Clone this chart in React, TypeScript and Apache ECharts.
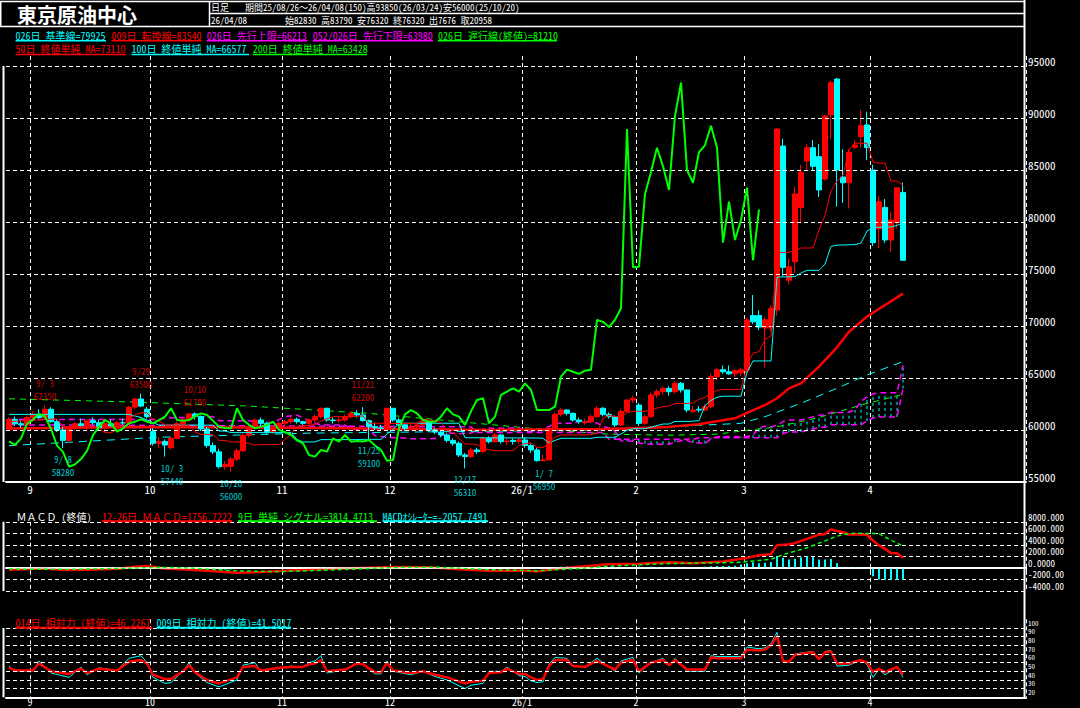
import React, { useEffect, useRef } from 'react';
import * as echarts from 'echarts';

const FONT = "'Noto Sans Mono CJK JP','Noto Sans CJK JP',monospace";
const RED = '#ff0000';
const CYAN = '#00ffff';
const GREEN = '#00ff00';
const MAGENTA = '#ff00ff';
const WHITE = '#ffffff';

// ---- trading days (category axis) ----
const MONTH_DAYS: [string, number[]][] = [
  ['25/08', [26, 27, 28, 29]],
  ['25/09', [1, 2, 3, 4, 5, 8, 9, 10, 11, 12, 16, 17, 18, 19, 22, 24, 25, 26, 29, 30]],
  ['25/10', [1, 2, 3, 6, 7, 8, 9, 10, 14, 15, 16, 17, 20, 21, 22, 23, 24, 27, 28, 29, 30, 31]],
  ['25/11', [4, 5, 6, 7, 10, 11, 12, 13, 14, 17, 18, 19, 20, 21, 25, 26, 27, 28]],
  ['25/12', [1, 2, 3, 4, 5, 8, 9, 10, 11, 12, 15, 16, 17, 18, 19, 22, 23, 24, 25, 26, 29, 30]],
  ['26/01', [5, 6, 7, 8, 9, 13, 14, 15, 16, 19, 20, 21, 22, 23, 26, 27, 28, 29, 30]],
  ['26/02', [2, 3, 4, 5, 6, 9, 10, 12, 13, 16, 17, 18, 19, 20, 24, 25, 26, 27]],
  ['26/03', [2, 3, 4, 5, 6, 9, 10, 11, 12, 13, 16, 17, 18, 19, 23, 24, 25, 26, 27, 30, 31]],
  ['26/04', [1, 2, 3, 6, 7, 8]],
];
const MONTH_TICK_LABELS = ['9', '10', '11', '12', '26/1', '2', '3', '4'];
const EMPTY_SLOTS = 20;

// ---- candles ----
const OPEN = [
  60070,61030,60600,60500,61200,61500,61200,62000,60800,60000,
  59000,60200,60600,60400,60900,60700,60200,60600,60400,60700,
  60670,62200,62980,62000,59840,58720,58900,58300,59200,60600,
  61000,61550,61300,60100,58500,57900,56470,56500,57200,58000,
  59500,60300,60960,60640,59840,60160,60640,60800,61030,60800,
  60640,60960,61280,62090,60960,60900,60960,61300,61600,61440,
  60900,60320,60200,60200,62090,60960,60500,60160,60300,60480,
  60800,60000,59800,59520,59000,58720,57600,57440,58080,57920,
  59200,58880,59520,58880,59000,58900,59040,58500,58080,57050,
  57120,60160,61500,61920,61600,60960,60700,60800,61280,62090,
  61500,61280,60480,61800,62880,62400,60640,61280,63370,63700,
  64000,63680,64490,63850,61800,62000,61920,62240,65130,65800,
  65600,65400,65500,65770,71000,71000,69800,69800,71540,87300,
  74400,76180,81400,85860,87140,86280,84130,90300,93750,84330,
  83780,87180,88200,89330,85000,79330,81400,78270,79940,82830];
const HIGH = [
  61200,61300,61000,61400,61800,62000,62350,62200,61000,60300,
  60400,60800,61100,61000,61200,61000,60800,61000,60900,61100,
  62300,63100,63500,62200,60200,59300,59100,59400,60800,61200,
  61600,61700,61400,60300,58800,58200,57000,57400,58200,59700,
  60500,61100,61200,60800,60400,60800,61000,61300,61200,60900,
  61100,61500,62150,62150,61200,61200,61500,61800,61900,62200,
  61000,60700,60500,62150,62100,61200,60700,60600,60700,61000,
  60900,60200,59900,59700,59200,58900,57800,58300,58300,59400,
  59400,59700,59600,59200,59200,59300,59300,58700,58300,57600,
  60300,61700,62100,62000,61700,61200,61100,61500,62300,62200,
  61700,61400,62000,63000,63300,62600,61500,63600,63900,64200,
  64200,64700,64600,63900,62300,62300,62500,65400,66000,66200,
  66200,65900,66000,70800,72980,71500,70900,72000,89000,88000,
  76500,83400,85500,87500,87880,87500,90300,93600,93850,87000,
  87000,87900,90770,90600,85500,82500,82200,81000,83300,83790];
const LOW = [
  59900,60400,60200,60300,60800,61000,61000,60700,59800,58280,
  58800,59900,60300,60000,60500,60000,59800,60300,60100,60400,
  60500,62000,62200,61100,58500,58300,57440,58100,59100,60300,
  60800,61000,59900,58300,57700,56300,56200,56000,57000,57900,
  59300,60100,60400,59600,59600,60000,60400,60600,60600,60400,
  60500,60800,61100,60800,60600,60700,60800,61100,61200,60800,
  59100,60000,59900,60100,60800,60300,59900,60000,60100,60300,
  59800,59600,59300,58800,58500,57400,56310,57300,57700,57800,
  58700,58800,58700,58600,58600,58700,58300,57800,56950,57000,
  57100,60000,61300,61400,60800,60600,60500,60700,61200,61300,
  61100,60300,60400,61700,62600,60400,60500,61200,63100,63400,
  63300,63500,63600,61700,61600,61700,61800,62100,64800,65400,
  65300,65100,65200,65500,70200,69600,66000,69500,71000,74800,
  74000,75100,80000,85000,85000,82400,84000,88000,81470,81830,
  81300,87000,87150,85960,77700,77470,78000,77100,79400,76320];
const CLOSE = [
  61030,60600,60500,61200,61500,61200,62000,60800,60000,59000,
  60200,60600,60400,60900,60700,60200,60600,60400,60700,60670,
  62200,62980,62300,61280,58720,58900,58560,59200,60600,61000,
  61550,61300,60100,58500,57900,56470,56700,57200,58000,59500,
  60300,60960,60640,59840,60160,60640,60800,61030,60800,60640,
  60960,61280,62090,60960,60900,60960,61300,61600,61440,60900,
  60320,60200,60160,62090,60960,60500,60160,60300,60480,60800,
  60000,59800,59520,59000,58720,57600,57440,58080,57920,59200,
  58880,59520,58880,58950,58900,59040,58500,58080,57050,57120,
  60160,61500,61920,61600,60960,60800,60800,61280,62090,61500,
  61280,60480,61800,62880,63050,60640,61280,63370,63700,64000,
  63680,64490,63850,61920,61920,61920,62240,65130,65800,65600,
  65400,65700,65800,70580,70400,69900,70600,71700,88940,75640,
  75700,82700,84800,87140,85350,83080,90190,93400,85000,83770,
  86700,87400,89260,87150,78010,81950,78270,80190,83300,76320];
const CHIKOU_SHIFT = 25;
const CHIKOU_TAIL = 81210;

// ---- indicator readings [barIndex, value] ----
const TENKAN = [[0,60800],[8,61075],[9,60315],[14,60315],[15,60240],[16,59740],[17,59740],[18,60000],[19,60500],[20,61050],[21,61450],[22,61650],[23,61650],[24,61000],[25,60900],[26,60470],[30,60470],[31,59820],[32,59570],[34,59570],[35,59000],[36,59000],[37,58850],[39,58850],[40,58700],[41,58550],[42,58600],[45,58600],[46,59100],[47,59600],[48,60300],[49,60450],[50,60450],[51,60550],[52,60875],[53,61075],[54,61275],[57,61275],[58,61325],[59,61350],[60,60650],[63,60650],[64,60625],[68,60625],[69,61025],[70,60975],[71,60875],[72,60700],[73,60000],[74,59750],[75,59200],[76,58655],[77,58655],[78,58605],[79,58255],[80,58105],[81,58005],[84,58005],[85,58500],[86,58700],[87,58750],[88,58325],[89,58325],[90,58625],[91,59325],[92,59525],[96,59525],[97,59550],[98,59700],[99,61150],[100,61400],[101,61300],[102,61300],[103,61650],[104,61800],[106,61800],[107,61950],[108,62100],[109,62250],[110,62300],[111,62550],[113,62550],[114,62600],[115,62950],[116,63150],[117,63500],[118,63800],[119,63900],[122,63900],[123,66250],[124,67390],[125,67540],[126,68690],[127,69040],[128,77050],[130,77100],[131,77250],[132,77500],[134,77500],[135,79250],[136,80650],[137,83000],[138,83925],[139,84475],[140,86925],[141,87575],[143,87575],[144,85775],[145,85660],[146,85660],[147,83935],[148,83935],[149,83540]];
const KIJUN = [[0,61500],[20,61500],[22,61200],[25,60470],[34,60470],[35,59900],[36,59900],[37,59750],[47,59750],[48,59100],[49,58850],[51,58850],[52,59075],[58,59075],[59,59100],[62,59100],[63,59600],[64,60050],[65,60650],[75,60650],[76,59255],[88,59230],[89,59200],[90,58755],[91,59000],[92,59200],[97,59200],[98,59300],[101,59300],[102,59625],[103,59975],[104,60125],[106,60125],[107,60275],[108,60425],[109,60575],[110,60575],[111,60825],[113,60825],[114,60850],[115,60900],[116,62350],[117,62850],[118,63150],[119,63250],[122,63250],[123,65550],[124,66640],[127,66640],[128,74700],[131,74750],[132,75100],[133,75350],[135,75350],[136,75950],[137,77650],[138,77775],[141,77825],[142,77975],[143,79125],[144,79475],[147,79525],[148,79675],[149,79925]];
const SENKOU_A = [[0,61000],[25,61000],[26,61150],[34,61290],[35,60900],[40,60900],[42,60620],[44,60750],[45,61000],[46,61275],[48,61425],[50,60900],[52,60470],[56,60470],[57,60145],[58,60020],[60,60020],[61,59450],[63,59300],[66,59225],[67,59150],[71,59175],[72,59425],[73,59675],[74,59700],[75,59650],[77,59700],[78,59975],[79,60075],[80,60175],[83,60175],[84,60200],[85,60225],[86,59875],[88,59875],[89,60125],[90,60340],[91,60640],[94,60640],[95,60840],[96,60810],[97,60760],[98,60675],[99,60325],[100,60200],[101,59925],[102,58955],[104,58930],[105,58755],[106,58680],[107,58630],[110,58630],[111,58870],[112,58970],[113,58990],[114,58780],[115,58760],[116,58690],[117,59160],[118,59360],[122,59360],[123,59375],[124,59500],[125,60225],[126,60350],[127,60300],[128,60460],[129,60810],[130,60960],[132,60960],[133,61110],[134,61260],[135,61410],[136,61440],[137,61690],[139,61690],[140,61725],[141,61925],[142,62750],[143,63175],[144,63475],[145,63575],[148,63575],[149,66213]];
const SENKOU_B = [[0,60500],[40,60400],[77,60300],[78,59750],[99,59750],[100,59100],[114,59100],[115,59255],[128,59255],[129,59655],[130,59805],[132,59805],[133,59955],[134,60105],[135,60255],[136,60255],[137,60505],[142,60505],[143,60855],[144,61155],[145,61255],[148,61255],[149,63980]];
const CLOUD_HATCH = [[101,59100,59925],[102,58955,59100],[103,58940,59100],[104,58930,59100],[105,58755,59100],[106,58680,59100],[107,58630,59100],[108,58630,59100],[109,58630,59100],[110,58630,59100],[111,58870,59100],[112,58970,59100],[113,58990,59100],[114,58780,59100],[115,58760,59255],[116,58690,59255],[117,59160,59255],[118,59255,59360],[119,59255,59360],[120,59255,59360],[121,59255,59360],[122,59255,59360],[123,59255,59375],[124,59255,59500],[125,59255,60225],[126,59255,60350],[127,59255,60300],[128,59255,60460],[129,59655,60810],[130,59805,60960],[131,59805,60960],[132,59805,60960],[133,59955,61110],[134,60105,61260],[135,60255,61410],[136,60255,61440],[137,60505,61690],[138,60505,61690],[139,60505,61690],[140,60505,61725],[141,60505,61925],[142,60505,62750],[143,60855,63175],[144,61155,63475],[145,61255,63575],[146,61255,63575],[147,61255,63575],[148,61255,63575],[149,63980,66213]];
const MA50 = [[0,60150],[20,60300],[40,60250],[60,60150],[80,60000],[100,60100],[110,60300],[115,60550],[121,61120],[122,61380],[126,62400],[128,63050],[130,64000],[132,64490],[135,66090],[138,67950],[140,69450],[143,70900],[146,72020],[149,73110]];
const MA100 = [[0,58500],[25,59300],[50,59700],[75,59850],[100,60000],[115,60450],[122,60640],[126,61280],[132,62570],[138,64010],[143,65290],[149,66577]];
const MA200 = [[0,63000],[20,62700],[40,62300],[60,61600],[75,60800],[90,60000],[100,59600],[110,59500],[118,59600],[122,59900],[128,60300],[135,61200],[142,62400],[149,63428]];

const MACD = [[0,-300],[6,-100],[9,-350],[13,-300],[18,-150],[21,200],[23,350],[26,-100],[30,-300],[35,-600],[38,-850],[42,-700],[48,-400],[55,-100],[60,50],[64,150],[70,100],[75,-250],[80,-500],[86,-450],[88,-600],[91,-200],[95,190],[100,630],[105,740],[110,980],[114,800],[119,1100],[121,1400],[122,1600],[123,1700],[124,2000],[125,2200],[126,2300],[127,2400],[128,3950],[129,4000],[130,4100],[131,4300],[132,4700],[133,5050],[134,5400],[135,5770],[136,5900],[137,6680],[138,6400],[139,6200],[140,5800],[141,5800],[142,5800],[143,5750],[144,4750],[145,3900],[146,3300],[147,2600],[148,2550],[149,1757]];
const SIGNAL = [[0,-200],[10,-250],[20,-50],[25,100],[30,0],[38,-500],[45,-650],[55,-300],[65,100],[72,100],[80,-300],[88,-500],[95,-100],[100,300],[105,550],[110,750],[115,850],[121,950],[122,1000],[123,1100],[124,1200],[125,1300],[126,1400],[127,1500],[128,1900],[129,2300],[130,2600],[131,2900],[132,3200],[133,3500],[134,3900],[135,4300],[136,4700],[137,5100],[138,5500],[139,5800],[140,5950],[141,6000],[142,6000],[143,5950],[144,6000],[145,5900],[146,5400],[147,4800],[148,4300],[149,3814]];
const OSC = [-100,-80,-60,0,50,80,120,60,-20,-120,-100,-50,-20,20,30,10,0,20,40,60,200,300,280,150,
  -50,-200,-280,-250,-150,-80,0,30,-30,-60,-150,-280,-300,-250,-150,-50,20,50,80,100,120,130,
  140,130,100,110,150,140,130,150,120,90,80,60,100,90,-30,-40,-30,80,
  60,40,30,10,20,0,-20,-60,-120,-180,-220,-280,-300,-250,-200,-100,-60,-50,-40,-30,-20,-20,
  -80,-90,-150,-120,-20,120,220,240,230,200,160,150,140,160,180,150,170,160,200,
  230,180,190,160,130,120,90,80,70,60,40,200,300,330,330,330,400,
  600,800,970,800,900,1050,2000,1750,1450,1600,1850,2000,1850,1450,1450,1550,800,200,150,100,100,-200,-1450,-2000,-2050,-2100,-2050,-2058];

const RSI14 = [[0,44],[1,41],[4,41],[5,49],[7,40],[10,37],[12,43],[13,38],[15,43],[18,41],[20,51],[22,53],[23,49],[24,36],[26,31],[27,31],[29,40],[30,47],[31,39],[33,30],[35,26],[38,33],[39,45],[41,46],[42,41],[45,44],[47,45],[49,45],[50,48],[51,49],[52,53],[53,40],[56,42],[58,49],[59,48],[61,39],[62,39],[63,50],[64,41],[67,38],[69,40],[71,36],[73,33],[76,26],[77,28],[79,29],[80,38],[82,39],[83,43],[85,37],[86,37],[87,33],[88,30],[89,31],[90,46],[91,53],[93,53],[94,46],[96,45],[98,52],[101,42],[102,50],[104,53],[105,40],[107,50],[109,53],[110,47],[111,53],[113,42],[116,42],[117,56],[118,55],[122,55],[123,65],[125,64],[126,65],[127,70],[128,81],[129,52],[130,51],[131,59],[134,62],[135,54],[136,62],[137,63],[138,49],[140,49],[142,53],[143,50],[144,39],[145,43],[146,39],[148,45],[149,36]];
const RSI9 = [[0,46],[1,40],[4,40],[5,52],[7,38],[10,33],[12,45],[13,36],[15,44],[18,41],[20,55],[22,58],[23,50],[24,33],[26,26],[27,27],[29,40],[30,50],[31,38],[33,27],[35,22],[38,30],[39,47],[41,50],[42,40],[45,44],[47,46],[49,45],[50,50],[51,52],[52,58],[53,38],[56,42],[58,50],[59,48],[61,37],[62,37],[63,52],[64,40],[67,36],[69,40],[71,34],[73,30],[76,20],[77,24],[79,26],[80,40],[82,40],[83,45],[85,35],[86,34],[87,29],[88,27],[89,28],[90,48],[91,56],[93,55],[94,46],[96,45],[98,55],[101,40],[102,52],[104,56],[105,38],[107,50],[109,55],[110,46],[111,55],[113,40],[116,40],[117,58],[118,57],[122,57],[123,68],[125,66],[126,67],[127,72],[128,85],[129,52],[130,50],[131,60],[134,63],[135,53],[136,63],[137,64],[138,46],[140,47],[142,53],[143,48],[144,33],[145,42],[146,36],[148,45],[149,33]];

// ---- extreme markers ----
const HI_IDX = [6, 22, 31, 59];
const HI_DATE = ['9/ 3', '9/29', '10/10', '11/21'];
const HI_VAL = [62350, 63500, 61700, 62200];
const LO_IDX = [9, 26, 37, 60, 76, 88];
const LO_DATE = ['9/ 8', '10/ 3', '10/20', '11/25', '12/17', '1/ 7'];
const LO_VAL = [58280, 57440, 56000, 59100, 56310, 56950];

// ---- axis ticks ----
const PRICE_TICKS = [55000, 60000, 65000, 70000, 75000, 80000, 85000, 90000, 95000];
const MACD_TICKS = [8000, 6000, 4000, 2000, 0, -2000, -4000];
const MACD_TICK_TEXT = ['8000.000', '6000.000', '4000.000', '2000.000', '0.0000', '-2000.00', '-4000.00'];
const RSI_TICKS = [100, 90, 80, 70, 60, 50, 40, 30, 20];
const RSI_GRID = [90, 80, 70, 60, 50, 40, 30, 20];

// ---- texts ----
const TITLE = '東京原油中心';
const HEAD1_A = '日足';
const HEAD1_B = '期間25/08/26～26/04/08(150)高93850(26/03/24)安56000(25/10/20)';
const HEAD2_A = '26/04/08';
const HEAD2_B = '始82830 高83790 安76320 終76320 出7676 取20958';

function buildOption() {
  const dates: string[] = [];
  const monthStarts: number[] = [];
  MONTH_DAYS.forEach(([ym, days], m) => {
    if (m > 0) monthStarts.push(dates.length);
    days.forEach((d) => dates.push(`${ym}/${String(d).padStart(2, '0')}`));
  });
  const cats = dates.concat(Array.from({ length: EMPTY_SLOTS }, (_, k) => `+${k + 1}`));
  const labelAt = new Map<number, string>();
  monthStarts.forEach((idx, k) => labelAt.set(idx, MONTH_TICK_LABELS[k]));
  const isMonth = (i: number) => labelAt.has(i);
  const nearMonth = (i: number) => monthStarts.some((m) => Math.abs(m - i) <= 3);

  const candles = OPEN.map((o, i) => [o, CLOSE[i], LOW[i], HIGH[i]]);
  const chikou = CLOSE.slice(CHIKOU_SHIFT).concat([CHIKOU_TAIL]);

  const makeX = (gridIndex: number, showLabel: boolean, showTick: boolean, fontSize: number, lineHeight: number, margin: number) => ({
    type: 'category',
    gridIndex,
    data: cats,
    boundaryGap: true,
    axisLine: { show: true, lineStyle: { color: WHITE, width: 2 } },
    axisTick: { show: showTick, interval: isMonth, length: 3, lineStyle: { color: WHITE } },
    axisLabel: {
      show: showLabel,
      interval: isMonth,
      formatter: (_v: string, i: number) => labelAt.get(i) ?? '',
      color: WHITE,
      fontSize,
      lineHeight,
      fontFamily: FONT,
      margin,
      padding: [0, 6, 0, 0],
    },
    splitLine: { show: true, interval: isMonth, lineStyle: { color: WHITE, type: [4, 3], width: 1 } },
  });

  const lineS = (name: string, data: number[][] | number[], color: string, width: number, type: any, z: number, xi = 0) => ({
    name,
    type: 'line',
    xAxisIndex: xi,
    yAxisIndex: xi,
    data,
    symbol: 'none',
    z,
    silent: true,
    lineStyle: { color, width, type },
  });

  const txt = (x: number, y: number, s: string, color: string, size = 10, weight = 'normal') => ({
    type: 'text',
    x,
    y,
    z: 100,
    silent: true,
    style: { text: s, fill: color, font: `${weight} ${size}px ${FONT}`, align: 'left', verticalAlign: 'middle', lineHeight: size + 1 },
  });
  const ln = (x1: number, y1: number, x2: number, y2: number, color = WHITE, w = 1.5) => ({
    type: 'line',
    z: 100,
    silent: true,
    shape: { x1, y1, x2, y2 },
    style: { stroke: color, lineWidth: w },
  });

  const graphic: any[] = [
    ln(0, 1.5, 1025, 1.5),
    ln(209.5, 13.5, 1025, 13.5),
    ln(0, 26.5, 1025, 26.5),
    ln(209.5, 1.5, 209.5, 26.5),
    ln(0.75, 1.5, 0.75, 26.5),
    ln(1024.5, 0, 1024.5, 697.5, WHITE, 2),
    ln(3.5, 66, 3.5, 482, WHITE, 2),
    ln(3.5, 521.8, 3.5, 591, WHITE, 2),
    ln(3.5, 628, 3.5, 697.3, WHITE, 2),
    txt(17, 14.2, TITLE, WHITE, 20, 'bold'),
    txt(211, 7, HEAD1_A, WHITE, 9),
    txt(245, 7, HEAD1_B, WHITE, 9),
    txt(211, 20.5, HEAD2_A, WHITE, 9),
    txt(285, 20.5, HEAD2_B, WHITE, 9),
    // legend row 1
    txt(15.6, 35, '026日 基準線=79925', CYAN),
    ln(15.6, 40.8, 106, 40.8, CYAN),
    txt(111.5, 35, '009日 転換線=83540', RED),
    ln(111.5, 40.8, 201.5, 40.8, RED),
    txt(206.7, 35, '026日 先行上限=66213', MAGENTA),
    ln(206.7, 40.8, 307.5, 40.8, MAGENTA),
    txt(312.7, 35, '052/026日 先行下限=63980', MAGENTA),
    ln(312.7, 40.8, 432.8, 40.8, MAGENTA),
    txt(438, 35, '026日 遅行線(終値)=81210', GREEN),
    ln(438, 40.8, 557, 40.8, GREEN),
    // legend row 2
    txt(15.6, 48.8, '50日 終値単純 MA=73110', RED),
    ln(15.6, 54.6, 126, 54.6, RED),
    txt(131.6, 48.8, '100日 終値単純 MA=66577', CYAN),
    ln(131.6, 54.6, 249, 54.6, CYAN),
    txt(252.8, 48.8, '200日 終値単純 MA=63428', GREEN),
    ln(252.8, 54.6, 367, 54.6, GREEN),
    // MACD legend
    txt(16.6, 516, 'ＭＡＣＤ (終値)', WHITE),
    txt(102, 516, '12-26日 ＭＡＣＤ=1756.7222', RED),
    ln(102, 521.3, 232, 521.3, RED, 2),
    txt(238, 516, '9日 単純 シグナル=3814.4713', GREEN),
    ln(238, 521.3, 377, 521.3, GREEN, 2),
    txt(382.6, 516, 'MACDｵｼﾚｰﾀｰ=-2057.7491', CYAN),
    ln(382.6, 521.3, 488, 521.3, CYAN, 2),
    // RSI legend
    txt(15.6, 622.5, '014日 相対力 (終値)=46.2267', RED),
    ln(15.6, 627.8, 152, 627.8, RED, 2),
    txt(156.5, 622.5, '009日 相対力 (終値)=41.5017', CYAN),
    ln(156.5, 627.8, 291, 627.8, CYAN, 2),
  ];

  const markLabel = (color: string, pos: string, distance: number) => ({
    show: true,
    position: pos,
    distance,
    color,
    fontSize: 9,
    fontFamily: FONT,
    lineHeight: 13,
    align: 'center',
  });

  return {
    animation: false,
    backgroundColor: '#000000',
    graphic,
    grid: [
      { left: 6, top: 56, width: 1020, height: 426 },
      { left: 6, top: 521.8, width: 1020, height: 69.2 },
      { left: 6, top: 619.3, width: 1020, height: 78 },
    ],
    xAxis: [makeX(0, true, false, 11, 12, 1), makeX(1, false, true, 11, 12, 1), makeX(2, true, false, 10, 9, 0)],
    yAxis: [
      {
        type: 'value', gridIndex: 0, position: 'right', min: 55000, max: 95960, interval: 5000,
        axisLine: { show: false }, axisTick: { show: false }, splitLine: { show: false },
        axisLabel: { color: WHITE, fontFamily: FONT, fontSize: 11, margin: 2, verticalAlign: 'bottom', formatter: (v: number) => (PRICE_TICKS.includes(v) ? String(v) : '') },
      },
      {
        type: 'value', gridIndex: 1, position: 'right', min: -4000, max: 8000, interval: 2000,
        axisLine: { show: false }, axisTick: { show: false },
        splitLine: { show: true, lineStyle: { color: WHITE, type: [4, 3], width: 1 } },
        axisLabel: { color: WHITE, fontFamily: FONT, fontSize: 9, lineHeight: 9, margin: 2, verticalAlign: 'bottom', formatter: (v: number) => { const k = MACD_TICKS.indexOf(v); return k >= 0 ? MACD_TICK_TEXT[k] : ''; } },
      },
      {
        type: 'value', gridIndex: 2, position: 'right', min: 10, max: 100, interval: 10,
        axisLine: { show: false }, axisTick: { show: false }, splitLine: { show: false },
        axisLabel: { color: WHITE, fontFamily: FONT, fontSize: 7, lineHeight: 7, margin: 2, verticalAlign: 'top', formatter: (v: number) => (RSI_TICKS.includes(v) ? String(v) : '') },
      },
    ],
    series: [
      {
        ...lineS('200日', MA200, GREEN, 1, [6, 5], 1),
        markLine: {
          silent: true, symbol: 'none', label: { show: false },
          lineStyle: { color: WHITE, type: [4, 3], width: 1 },
          data: PRICE_TICKS.filter((v) => v > 55000).map((v) => ({ yAxis: v })),
        },
      },
      {
        name: '雲', type: 'custom', xAxisIndex: 0, yAxisIndex: 0, z: 1, silent: true,
        data: CLOUD_HATCH,
        encode: { x: 0, y: [1, 2] },
        renderItem: (_p: any, api: any) => {
          const a = api.coord([api.value(0), api.value(1)]);
          const b = api.coord([api.value(0), api.value(2)]);
          return {
            type: 'line',
            shape: { x1: a[0], y1: a[1], x2: b[0], y2: b[1] },
            style: { stroke: CYAN, lineWidth: 1, lineDash: [3, 3] },
          };
        },
      },
      lineS('先行上限', SENKOU_A, MAGENTA, 1.5, [6, 4], 2),
      lineS('先行下限', SENKOU_B, MAGENTA, 1.5, [6, 4], 2),
      lineS('100日', MA100, CYAN, 1, [8, 6], 2),
      lineS('50日', MA50, RED, 2.5, 'solid', 3),
      {
        name: '日足', type: 'candlestick', xAxisIndex: 0, yAxisIndex: 0, data: candles, barWidth: 5, z: 4, silent: true,
        itemStyle: { color: RED, color0: CYAN, borderColor: RED, borderColor0: CYAN, borderWidth: 1 },
      },
      lineS('基準線', KIJUN, CYAN, 1, 'solid', 5),
      lineS('転換線', TENKAN, RED, 1, 'solid', 5),
      lineS('遅行線', chikou, GREEN, 2, 'solid', 6),
      {
        name: 'hi', type: 'scatter', xAxisIndex: 0, yAxisIndex: 0, symbolSize: 0, z: 7, silent: true,
        label: markLabel(RED, 'top', 3),
        data: HI_IDX.map((i, k) => ({ value: [i, HI_VAL[k]], label: { formatter: `${HI_DATE[k]}\n${HI_VAL[k]}` } })),
      },
      {
        name: 'lo', type: 'scatter', xAxisIndex: 0, yAxisIndex: 0, symbolSize: 0, z: 7, silent: true,
        label: markLabel(CYAN, 'bottom', 5),
        data: LO_IDX.map((i, k) => ({
          value: [i, LO_VAL[k]],
          label: { formatter: `${LO_DATE[k]}\n${LO_VAL[k]}`, offset: nearMonth(i) ? [7, 0] : [0, 0] },
        })),
      },
      {
        name: 'osc', type: 'bar', xAxisIndex: 1, yAxisIndex: 1, data: OSC, barWidth: 2, z: 2, silent: true,
        itemStyle: { color: CYAN },
      },
      {
        ...lineS('MACD', MACD, RED, 2.5, 'solid', 4, 1),
        markLine: {
          silent: true, symbol: 'none', label: { show: false },
          lineStyle: { color: WHITE, type: 'solid', width: 1.5 },
          data: [{ yAxis: 0 }],
        },
      },
      lineS('signal', SIGNAL, GREEN, 1.5, [4, 3], 5, 1),
      {
        ...lineS('RSI9', RSI9, CYAN, 1, 'solid', 3, 2),
        markLine: {
          silent: true, symbol: 'none', label: { show: false },
          lineStyle: { color: WHITE, type: [4, 3], width: 1 },
          data: RSI_GRID.map((v) => ({ yAxis: v })),
        },
      },
      lineS('RSI14', RSI14, RED, 2.5, 'solid', 4, 2),
    ],
  };
}

export default function App() {
  const ref = useRef<HTMLDivElement>(null);
  useEffect(() => {
    document.body.style.margin = '0';
    document.body.style.background = '#000';
    const chart = echarts.init(ref.current!, undefined, { renderer: 'svg' });
    chart.setOption(buildOption() as any);
    return () => chart.dispose();
  }, []);
  return (
    <div
      ref={ref}
      style={{ position: 'absolute', left: 0, top: 0, width: 1080, height: 708, background: '#000' }}
    />
  );
}
